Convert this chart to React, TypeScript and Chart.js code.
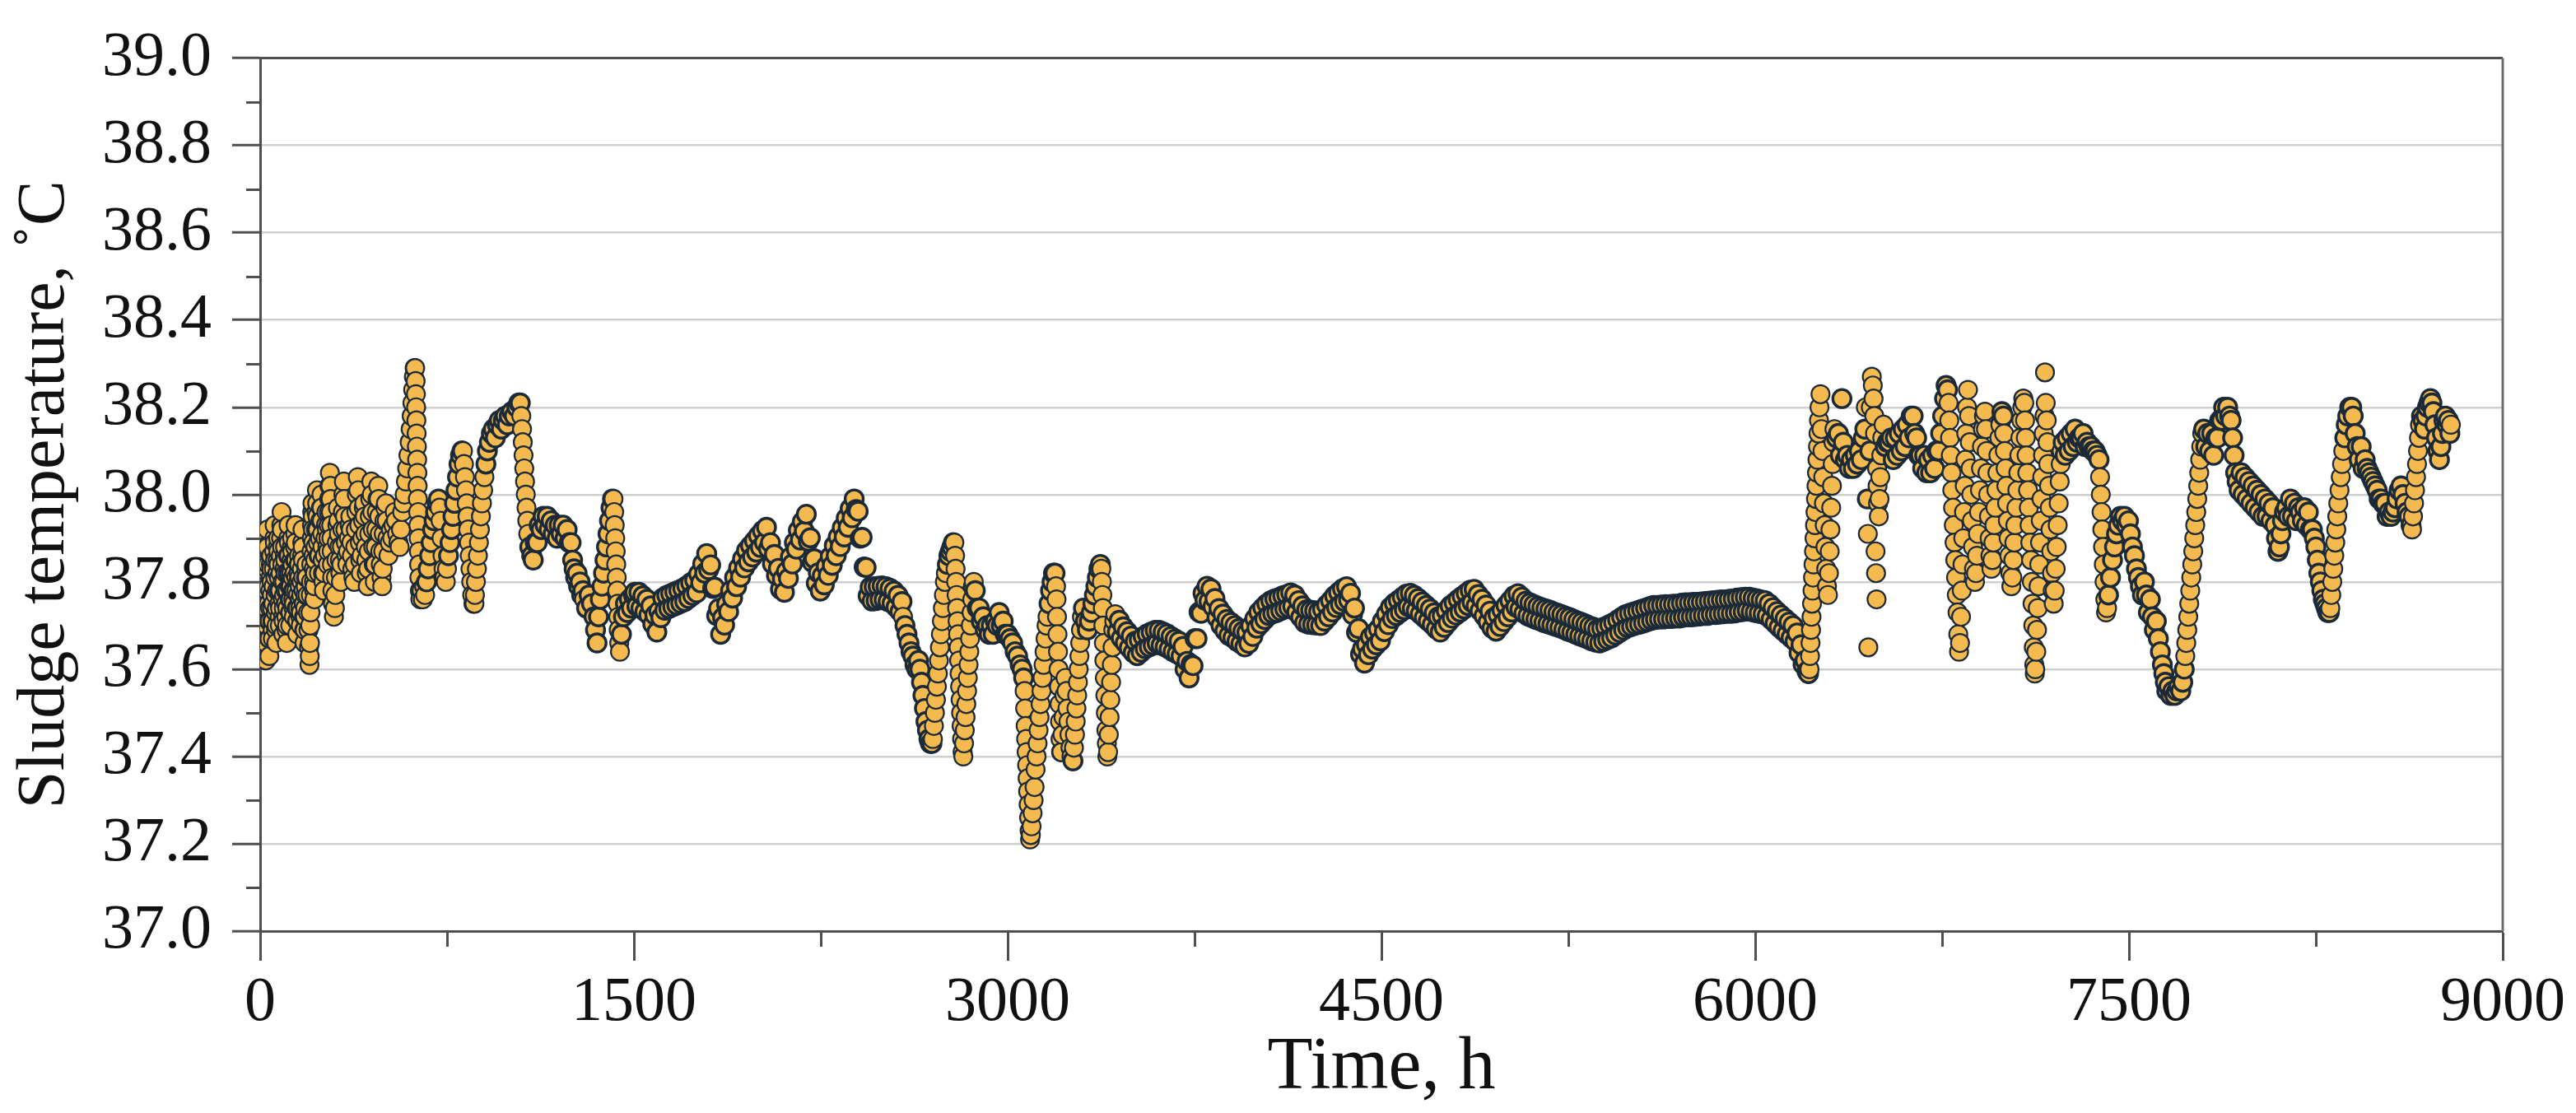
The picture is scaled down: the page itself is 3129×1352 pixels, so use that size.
import React, { useEffect, useRef } from "react";
import { Chart, registerables } from "chart.js";

Chart.register(...registerables);

type Pair = [number, number];

// Sludge temperature readings [hour, °C], split by period
const start0to300: Pair[] = [
[0,37.72],[1,37.76],[2,37.79],[3,37.83],[4,37.87],[5,37.90],
[6,37.86],[7,37.81],[8,37.77],[9,37.72],[10,37.68],[11,37.64],
[12,37.68],[13,37.72],[14,37.76],[15,37.80],[16,37.84],[17,37.88],
[18,37.84],[19,37.79],[20,37.75],[21,37.70],[22,37.66],[23,37.62],
[24,37.66],[25,37.70],[26,37.74],[27,37.78],[28,37.83],[29,37.88],[30,37.92],
[31,37.88],[32,37.84],[33,37.79],[34,37.75],[35,37.71],[36,37.67],[37,37.63],
[38,37.67],[39,37.71],[40,37.74],[41,37.78],[42,37.81],[43,37.84],[44,37.86],
[45,37.83],[46,37.80],[47,37.77],[48,37.74],[49,37.71],[50,37.69],[51,37.67],
[52,37.71],[53,37.75],[54,37.79],[55,37.83],[56,37.87],[57,37.90],[58,37.93],
[59,37.89],[60,37.85],[61,37.81],[62,37.77],[63,37.73],[64,37.69],[65,37.66],
[66,37.70],[67,37.74],[68,37.78],[69,37.82],[70,37.85],[71,37.88],[72,37.90],
[73,37.87],[74,37.84],[75,37.81],[76,37.78],[77,37.75],[78,37.72],[79,37.70],
[80,37.74],[81,37.78],[82,37.82],[83,37.86],[84,37.90],[85,37.93],[86,37.96],
[87,37.92],[88,37.88],[89,37.84],[90,37.80],[91,37.76],[92,37.72],[93,37.68],
[94,37.71],[95,37.74],[96,37.77],[97,37.80],[98,37.83],[99,37.86],[100,37.88],
[101,37.85],[102,37.82],[103,37.78],[104,37.75],[105,37.72],[106,37.69],[107,37.66],
[108,37.70],[109,37.74],[110,37.78],[111,37.82],[112,37.86],[113,37.90],[114,37.93],
[115,37.89],[116,37.86],[117,37.82],[118,37.79],[119,37.76],[120,37.73],[121,37.70],
[122,37.73],[123,37.76],[124,37.79],[125,37.82],[126,37.85],[127,37.88],[128,37.90],
[129,37.87],[130,37.84],[131,37.81],[132,37.78],[133,37.76],[134,37.74],[135,37.72],
[136,37.75],[137,37.78],[138,37.82],[139,37.85],[140,37.88],[141,37.91],[142,37.93],
[143,37.89],[144,37.85],[145,37.81],[146,37.78],[147,37.74],[148,37.71],[149,37.68],
[150,37.71],[151,37.74],[152,37.77],[153,37.80],[154,37.82],[155,37.84],[156,37.86],
[157,37.84],[158,37.81],[159,37.79],[160,37.76],[161,37.74],[162,37.72],[163,37.70],
[164,37.73],[165,37.77],[166,37.80],[167,37.83],[168,37.86],[169,37.89],[170,37.92],
[171,37.88],[172,37.85],[173,37.81],[174,37.78],[175,37.75],[176,37.72],[177,37.69],[178,37.66],
[179,37.69],[180,37.72],[181,37.74],[182,37.77],[183,37.79],[184,37.81],[185,37.83],[186,37.84],
[188,37.81],[190,37.77],[192,37.73],[194,37.69],[196,37.65],[198,37.61],
[199,37.63],[200,37.66],[201,37.70],[202,37.73],[203,37.77],[204,37.80],[205,37.84],[206,37.87],[207,37.90],[208,37.93],[209,37.96],[210,37.98],
[211,37.95],[212,37.92],[213,37.89],[214,37.86],[215,37.83],[216,37.80],[217,37.78],[218,37.76],
[219,37.79],[220,37.82],[221,37.85],[222,37.88],[224,37.92],[226,37.96],[228,38.01],
[229,37.98],[230,37.95],[231,37.92],[232,37.89],[234,37.86],[236,37.82],
[238,37.86],[240,37.90],[242,37.94],[244,37.97],[246,38.00],
[247,37.97],[248,37.94],[249,37.91],[250,37.88],[251,37.85],[252,37.82],[254,37.80],[256,37.78],
[258,37.82],[260,37.86],[262,37.90],[264,37.93],[266,37.96],
[268,37.92],[270,37.88],[272,37.84],
[273,37.87],[274,37.90],[275,37.93],[276,37.96],[277,37.99],[278,38.02],[280,38.05],
[282,38.02],[283,37.99],[284,37.96],[285,37.93],[286,37.90],[287,37.87],[288,37.84],[289,37.81],[290,37.78],[292,37.75],[296,37.72]
];

const early300to645: Pair[] = [
[300,37.74],[302,37.77],[304,37.81],[306,37.85],[308,37.89],[310,37.93],[312,37.97],
[314,37.94],[316,37.91],[318,37.88],[320,37.85],[322,37.82],[324,37.80],
[326,37.84],[328,37.88],[330,37.92],[332,37.96],[334,38.00],[336,38.03],
[338,37.99],[340,37.95],[342,37.92],[344,37.89],[347,37.86],[350,37.84],
[353,37.87],[356,37.90],[359,37.93],[362,37.95],
[364,37.92],[366,37.89],[368,37.86],[370,37.83],[374,37.81],[378,37.80],
[380,37.84],[382,37.88],[384,37.92],[386,37.96],[388,38.00],[392,38.04],
[394,38.01],[396,37.97],[398,37.93],[400,37.89],[402,37.85],[404,37.82],
[407,37.86],[410,37.90],[413,37.94],[416,37.97],[418,37.98],
[420,37.95],[422,37.91],[424,37.88],[426,37.85],[428,37.82],[432,37.79],
[434,37.83],[436,37.87],[438,37.91],[440,37.95],[442,37.99],[446,38.03],
[448,38.00],[450,37.96],[452,37.92],[454,37.88],[456,37.84],[460,37.80],
[462,37.84],[464,37.88],[466,37.92],[468,37.96],[471,37.99],[474,38.02],
[476,37.99],[478,37.95],[480,37.91],[482,37.87],[484,37.84],[487,37.81],[490,37.79],
[492,37.83],[494,37.87],[496,37.91],[499,37.94],[502,37.97],[505,37.98],
[508,37.94],[511,37.90],[515,37.86],
[520,37.89],[525,37.92],[530,37.90],[535,37.93],[540,37.96],[545,37.94],[550,37.91],[555,37.89],[560,37.88],[565,37.92],[570,37.96],[575,37.98],
[580,38.00],[585,38.03],[590,38.06],[595,38.09],[600,38.12],[604,38.15],[608,38.18],[611,38.21],[614,38.24],[617,38.27],[620,38.29],[622,38.29],
[624,38.26],[625,38.23],[626,38.20],[627,38.17],[628,38.14],[629,38.11],[630,38.08],[631,38.05],[632,38.02],[633,37.99],[634,37.96],[635,37.93],[636,37.90],[637,37.87],[638,37.84],[639,37.81],[641,37.78],[643,37.76]
];

const mid645to1500: Pair[] = [
[648,37.78],[653,37.76],[658,37.79],[662,37.77],
[668,37.80],[674,37.83],[680,37.86],[686,37.89],[692,37.92],[698,37.94],[704,37.96],[710,37.98],[716,37.99],[720,37.97],
[724,37.94],[728,37.90],[732,37.86],[736,37.83],[740,37.81],[745,37.80],
[750,37.83],[756,37.86],[762,37.89],[768,37.92],[774,37.95],[780,37.98],[786,38.01],[792,38.04],[798,38.07],[804,38.09],[810,38.10],[814,38.10],
[818,38.07],[822,38.04],[826,38.01],[829,37.98],[832,37.95],[835,37.92],[838,37.89],[841,37.86],[844,37.83],[847,37.80],[851,37.77],[856,37.75],[860,37.75],
[862,37.77],[866,37.80],[870,37.83],[874,37.86],[878,37.89],[882,37.92],[886,37.95],[890,37.98],[895,38.01],[900,38.04],[906,38.07],[912,38.10],[920,38.12],[928,38.14],[936,38.15],[944,38.13],[952,38.16],[960,38.17],[968,38.15],[976,38.17],[984,38.18],[992,38.16],[1000,38.18],[1010,38.19],[1020,38.18],[1030,38.20],[1038,38.21],[1044,38.21],
[1048,38.18],[1051,38.15],[1054,38.12],[1057,38.09],[1060,38.06],[1063,38.03],[1066,38.00],[1069,37.97],[1072,37.94],[1076,37.91],[1082,37.88],[1090,37.86],
[1096,37.85],[1104,37.89],[1112,37.89],[1120,37.93],[1128,37.92],[1136,37.95],[1144,37.93],[1152,37.95],[1160,37.92],[1168,37.94],[1176,37.91],[1184,37.93],[1192,37.90],[1200,37.93],[1208,37.91],[1216,37.93],[1224,37.90],[1232,37.92],[1240,37.89],[1248,37.89],
[1254,37.85],[1260,37.83],[1266,37.81],[1272,37.82],[1278,37.79],[1284,37.80],[1290,37.77],[1296,37.78],
[1300,37.76],[1310,37.74],[1320,37.77],[1330,37.75],[1340,37.72],[1346,37.69],[1352,37.66],[1358,37.72],[1365,37.76],[1372,37.79],
[1378,37.82],[1384,37.85],[1390,37.88],[1396,37.91],[1402,37.94],[1408,37.97],[1414,37.99],[1418,37.99],
[1421,37.96],[1423,37.93],[1425,37.90],[1427,37.87],[1429,37.84],[1431,37.81],[1433,37.78],[1435,37.75],[1437,37.72],[1439,37.69],[1441,37.66],[1444,37.64],
[1450,37.68],[1458,37.72],[1466,37.75],[1474,37.73],[1482,37.76],[1490,37.74],[1498,37.77]
];

const period1500to2580: Pair[] = [
[1504,37.776],[1512,37.744],[1520,37.776],[1528,37.740],[1536,37.768],[1544,37.732],[1552,37.760],[1560,37.724],[1568,37.745],[1576,37.703],[1584,37.724],[1592,37.685],
[1600,37.733],[1608,37.718],[1616,37.763],[1624,37.735],[1632,37.769],[1640,37.739],[1648,37.773],[1656,37.743],[1664,37.777],[1672,37.747],[1680,37.781],[1688,37.751],[1696,37.785],
[1704,37.755],[1712,37.791],[1720,37.762],[1728,37.798],[1736,37.769],[1744,37.804],[1752,37.775],[1760,37.818],[1768,37.798],[1776,37.841],[1784,37.820],[1792,37.865],[1800,37.828],
[1808,37.839],[1816,37.785],[1824,37.788],[1832,37.723],[1840,37.739],[1848,37.680],[1856,37.718],[1864,37.701],[1872,37.749],[1880,37.732],[1888,37.780],[1896,37.763],
[1904,37.810],[1912,37.789],[1920,37.832],[1928,37.811],[1936,37.853],[1944,37.832],[1952,37.872],[1960,37.846],[1968,37.883],[1976,37.857],[1984,37.894],[1992,37.868],
[2000,37.906],[2008,37.879],[2016,37.917],[2024,37.890],[2032,37.925],[2040,37.876],[2048,37.890],[2056,37.841],[2064,37.863],[2072,37.815],[2080,37.831],[2088,37.783],[2096,37.807],
[2104,37.776],[2112,37.824],[2120,37.808],[2128,37.857],[2136,37.841],[2144,37.890],[2152,37.875],[2160,37.918],[2168,37.896],[2176,37.938],[2184,37.916],[2192,37.955],
[2200,37.893],[2208,37.901],[2216,37.845],[2224,37.853],[2232,37.797],[2240,37.821],[2248,37.779],[2256,37.814],[2264,37.793],[2272,37.836],[2280,37.815],[2288,37.858],[2296,37.838],
[2304,37.883],[2312,37.860],[2320,37.903],[2328,37.881],[2336,37.924],[2344,37.903],[2352,37.946],[2360,37.925],[2368,37.968],[2376,37.947],[2384,37.990],[2392,37.966],
[2400,37.962],[2408,37.900],[2416,37.902],[2424,37.834],[2432,37.833],[2440,37.768],[2448,37.788],[2456,37.756],[2464,37.789],[2472,37.757],[2480,37.790],[2488,37.759],[2496,37.791],
[2504,37.759],[2512,37.789],[2520,37.755],[2528,37.785],[2536,37.751],[2544,37.779],[2552,37.742],[2560,37.769],[2568,37.732],[2576,37.755]
];

const period2580to3000: Pair[] = [
[2580,37.72],[2588,37.70],[2596,37.68],[2604,37.66],[2612,37.64],[2620,37.63],[2628,37.61],[2636,37.60],[2642,37.62],[2648,37.60],[2654,37.57],[2660,37.54],[2666,37.51],[2672,37.48],[2678,37.46],[2684,37.44],[2690,37.43],[2696,37.43],[2700,37.44],
[2704,37.47],[2708,37.50],[2712,37.53],[2716,37.56],[2720,37.59],[2724,37.62],[2728,37.65],[2732,37.68],[2736,37.71],[2740,37.74],[2744,37.77],[2748,37.80],[2752,37.82],
[2758,37.84],[2764,37.86],[2770,37.87],[2776,37.88],[2782,37.89],[2786,37.89],
[2789,37.86],[2791,37.83],[2793,37.80],[2795,37.77],[2797,37.74],[2799,37.71],[2801,37.68],[2803,37.65],[2805,37.62],[2807,37.59],[2809,37.56],[2811,37.53],[2813,37.50],[2815,37.47],[2817,37.44],[2819,37.41],[2822,37.40],
[2825,37.43],[2828,37.46],[2831,37.49],[2834,37.52],[2837,37.55],[2840,37.58],[2843,37.61],[2846,37.64],[2849,37.67],[2852,37.70],[2855,37.73],[2858,37.76],[2861,37.79],[2864,37.80],
[2870,37.78],[2878,37.74],[2886,37.74],[2894,37.71],[2902,37.72],[2910,37.69],[2918,37.70],[2926,37.68],[2934,37.70],[2942,37.68],[2950,37.71],[2958,37.70],[2966,37.73],[2974,37.70],[2982,37.71],[2990,37.68]
];

const period3000to3430: Pair[] = [
[3000,37.68],[3010,37.67],[3020,37.66],[3030,37.64],[3040,37.63],[3050,37.61],[3058,37.60],[3064,37.58],[3068,37.55],[3070,37.51],[3072,37.47],[3074,37.44],[3076,37.41],[3078,37.38],[3080,37.35],[3082,37.32],[3084,37.29],[3086,37.26],[3088,37.23],[3090,37.21],[3093,37.22],[3096,37.24],
[3100,37.27],[3104,37.30],[3108,37.33],[3112,37.37],[3116,37.40],[3120,37.43],[3124,37.46],[3128,37.49],[3132,37.52],[3136,37.55],[3140,37.58],[3144,37.61],[3148,37.64],[3152,37.67],[3156,37.70],[3160,37.72],[3166,37.75],[3172,37.78],[3178,37.80],[3184,37.82],[3190,37.82],
[3194,37.79],[3196,37.76],[3198,37.72],[3200,37.68],[3202,37.64],[3204,37.60],[3206,37.56],[3208,37.52],[3210,37.48],[3212,37.44],[3214,37.41],[3216,37.41],
[3220,37.45],[3224,37.49],[3228,37.54],[3232,37.58],[3236,37.55],[3240,37.51],[3244,37.48],[3248,37.45],[3252,37.42],[3256,37.40],[3262,37.39],
[3266,37.42],[3270,37.45],[3273,37.48],[3276,37.51],[3279,37.54],[3282,37.57],[3285,37.60],[3288,37.63],[3291,37.66],[3294,37.69],[3298,37.72],[3304,37.74],
[3312,37.71],[3320,37.69],[3328,37.71],[3336,37.73],
[3342,37.75],[3348,37.77],[3354,37.79],[3360,37.81],[3366,37.83],[3372,37.84],[3376,37.83],
[3378,37.80],[3380,37.77],[3382,37.74],[3384,37.70],[3386,37.66],[3388,37.62],[3390,37.58],[3392,37.54],[3394,37.50],[3396,37.46],[3398,37.43],[3400,37.40],[3403,37.41],
[3406,37.45],[3409,37.49],[3412,37.53],[3415,37.57],[3418,37.61],[3421,37.65],[3424,37.69],[3428,37.71]
];

const period3430to4500: Pair[] = [
[3432,37.726],[3440,37.685],[3448,37.712],[3456,37.671],[3464,37.697],[3472,37.660],[3480,37.686],[3488,37.649],[3496,37.676],
[3504,37.638],[3512,37.664],[3520,37.631],[3528,37.667],[3536,37.639],[3544,37.675],[3552,37.647],[3560,37.681],[3568,37.651],[3576,37.685],[3584,37.655],[3592,37.689],
[3600,37.659],[3608,37.689],[3616,37.655],[3624,37.685],[3632,37.651],[3640,37.681],[3648,37.646],[3656,37.675],[3664,37.640],[3672,37.669],[3680,37.635],[3688,37.664],[3696,37.630],
[3704,37.652],[3712,37.600],[3720,37.618],[3728,37.580],[3736,37.611],[3744,37.608],[3752,37.670],[3760,37.670],[3768,37.731],[3776,37.728],[3784,37.774],[3792,37.758],
[3800,37.790],[3808,37.755],[3816,37.784],[3824,37.743],[3832,37.762],[3840,37.718],[3848,37.739],[3856,37.700],[3864,37.726],[3872,37.688],[3880,37.714],[3888,37.677],[3896,37.707],
[3904,37.672],[3912,37.700],[3920,37.664],[3928,37.693],[3936,37.658],[3944,37.687],[3952,37.651],[3960,37.684],[3968,37.659],[3976,37.699],[3984,37.675],[3992,37.716],
[4000,37.694],[4008,37.731],[4016,37.704],[4024,37.741],[4032,37.714],[4040,37.750],[4048,37.723],[4056,37.757],[4064,37.727],[4072,37.761],[4080,37.730],[4088,37.764],[4096,37.734],
[4104,37.768],[4112,37.738],[4120,37.771],[4128,37.741],[4136,37.775],[4144,37.744],[4152,37.770],[4160,37.731],[4168,37.757],[4176,37.719],[4184,37.745],[4192,37.707],
[4200,37.736],[4208,37.703],[4216,37.735],[4224,37.702],[4232,37.734],[4240,37.701],[4248,37.732],[4256,37.700],[4264,37.737],[4272,37.710],[4280,37.747],[4288,37.720],[4296,37.757],
[4304,37.731],[4312,37.768],[4320,37.741],[4328,37.776],[4336,37.748],[4344,37.784],[4352,37.755],[4360,37.789],[4368,37.759],[4376,37.774],[4384,37.725],[4392,37.740],
[4400,37.684],[4408,37.693],[4416,37.634],[4424,37.647],[4432,37.614],[4440,37.656],[4448,37.633],[4456,37.674],[4464,37.646],[4472,37.683],[4480,37.656],[4488,37.692],[4496,37.665]
];

const period4500to6220: Pair[] = [
[4504,37.710],[4512,37.686],[4520,37.726],[4528,37.702],[4536,37.742],[4544,37.716],[4552,37.751],[4560,37.723],[4568,37.758],[4576,37.730],[4584,37.765],[4592,37.736],
[4600,37.772],[4608,37.743],[4616,37.774],[4624,37.739],[4632,37.769],[4640,37.734],[4648,37.762],[4656,37.726],[4664,37.754],[4672,37.718],[4680,37.746],[4688,37.710],[4696,37.738],
[4704,37.702],[4712,37.729],[4720,37.692],[4728,37.720],[4736,37.685],[4744,37.723],[4752,37.696],[4760,37.734],[4768,37.707],[4776,37.745],[4784,37.717],[4792,37.752],
[4800,37.724],[4808,37.760],[4816,37.731],[4824,37.767],[4832,37.738],[4840,37.774],[4848,37.746],[4856,37.781],[4864,37.753],[4872,37.783],[4880,37.745],[4888,37.771],[4896,37.734],
[4904,37.760],[4912,37.722],[4920,37.747],[4928,37.708],[4936,37.733],[4944,37.694],[4952,37.718],[4960,37.687],[4968,37.725],[4976,37.698],[4984,37.735],[4992,37.709],
[5000,37.746],[5008,37.720],[5016,37.757],[5024,37.731],[5032,37.768],[5040,37.742],[5048,37.773],[5056,37.737],[5064,37.765],[5072,37.728],[5080,37.756],[5088,37.722],[5096,37.752],
[5104,37.718],[5112,37.748],[5120,37.714],[5128,37.744],[5136,37.711],[5144,37.741],[5152,37.707],[5160,37.738],[5168,37.704],[5176,37.735],[5184,37.701],[5192,37.731],
[5200,37.698],[5208,37.728],[5216,37.695],[5224,37.725],[5232,37.691],[5240,37.721],[5248,37.687],[5256,37.718],[5264,37.684],[5272,37.714],[5280,37.680],[5288,37.710],[5296,37.676],
[5304,37.707],[5312,37.673],[5320,37.703],[5328,37.669],[5336,37.699],[5344,37.665],[5352,37.696],[5360,37.662],[5368,37.692],[5376,37.660],[5384,37.694],[5392,37.664],
[5400,37.698],[5408,37.668],[5416,37.702],[5424,37.672],[5432,37.707],[5440,37.678],[5448,37.713],[5456,37.684],[5464,37.719],[5472,37.690],[5480,37.725],[5488,37.695],[5496,37.728],
[5504,37.698],[5512,37.731],[5520,37.701],[5528,37.734],[5536,37.703],[5544,37.737],[5552,37.706],[5560,37.740],[5568,37.709],[5576,37.743],[5584,37.712],[5592,37.746],
[5600,37.714],[5608,37.746],[5616,37.715],[5624,37.747],[5632,37.715],[5640,37.748],[5648,37.716],[5656,37.748],[5664,37.716],[5672,37.749],[5680,37.717],[5688,37.749],[5696,37.717],
[5704,37.751],[5712,37.719],[5720,37.752],[5728,37.720],[5736,37.752],[5744,37.720],[5752,37.753],[5760,37.721],[5768,37.753],[5776,37.722],[5784,37.754],[5792,37.723],
[5800,37.755],[5808,37.723],[5816,37.756],[5824,37.725],[5832,37.757],[5840,37.725],[5848,37.758],[5856,37.726],[5864,37.759],[5872,37.727],[5880,37.759],[5888,37.728],[5896,37.760],
[5904,37.728],[5912,37.761],[5920,37.729],[5928,37.763],[5936,37.731],[5944,37.764],[5952,37.732],[5960,37.765],[5968,37.734],[5976,37.765],[5984,37.732],[5992,37.763],
[6000,37.730],[6008,37.761],[6016,37.728],[6024,37.759],[6032,37.726],[6040,37.757],[6048,37.722],[6056,37.750],[6064,37.714],[6072,37.741],[6080,37.705],[6088,37.732],[6096,37.696],
[6104,37.724],[6112,37.688],[6120,37.716],[6128,37.680],[6136,37.708],[6144,37.672],[6152,37.700],[6160,37.664],[6168,37.683],[6176,37.637],[6184,37.656],[6192,37.611],
[6200,37.620],[6208,37.595],[6214,37.590],[6218,37.600]
];

const period6220to7550: Pair[] = [
[6220,37.63],[6222,37.66],[6224,37.69],[6226,37.72],[6228,37.75],[6230,37.78],[6232,37.81],[6234,37.84],[6236,37.87],[6238,37.90],[6240,37.93],[6242,37.96],[6244,37.99],[6246,38.02],[6248,38.05],[6250,38.08],[6252,38.11],[6254,38.14],[6256,38.17],[6258,38.20],[6262,38.23],
[6266,38.15],[6270,38.10],[6273,38.04],[6276,37.98],[6279,37.93],[6282,37.88],[6285,37.83],[6288,37.79],[6292,37.77],[6296,37.82],[6299,37.87],[6302,37.92],[6305,37.97],[6308,38.02],[6311,38.07],[6314,38.12],[6318,38.15],
[6326,38.13],[6334,38.14],[6342,38.09],[6348,38.22],[6354,38.12],[6362,38.08],[6370,38.09],[6378,38.06],[6386,38.08],[6394,38.06],[6402,38.09],[6410,38.07],[6418,38.10],[6426,38.08],[6434,38.13],[6440,38.15],
[6444,38.20],[6450,37.99],[6452,37.91],[6454,37.65],[6460,38.10],[6464,38.20],[6468,38.27],[6472,38.25],[6475,38.22],[6478,38.18],[6481,38.14],[6483,37.87],[6485,37.82],[6487,37.76],[6489,38.06],[6491,38.02],[6493,37.98],[6496,37.95],[6499,37.99],[6502,38.04],[6506,38.09],[6510,38.13],[6515,38.16],
[6522,38.11],[6530,38.12],[6538,38.12],[6546,38.13],[6554,38.08],[6562,38.13],[6570,38.09],[6578,38.14],[6586,38.10],[6594,38.15],[6602,38.11],[6610,38.16],[6618,38.13],[6626,38.18],[6634,38.18],[6640,38.14],[6648,38.13],[6656,38.09],[6664,38.09],[6672,38.06],[6680,38.09],[6688,38.05],[6696,38.08],[6704,38.05],[6712,38.09],[6720,38.06],[6728,38.10],[6736,38.10],[6744,38.14],
[6752,38.18],[6760,38.22],[6766,38.25],[6772,38.24],[6776,38.21],[6779,38.17],[6782,38.13],[6785,38.09],[6788,38.05],[6791,38.01],[6794,37.97],[6797,37.93],[6800,37.89],[6803,37.85],[6806,37.81],[6809,37.77],[6812,37.73],[6815,37.68],[6818,37.64],[6822,37.66],
[6826,37.72],[6829,37.78],[6832,37.84],[6835,37.90],[6838,37.96],[6841,38.02],[6844,38.08],[6847,38.14],[6850,38.20],[6854,38.24],
[6858,38.18],[6861,38.12],[6864,38.06],[6867,38.00],[6870,37.94],[6874,37.88],[6878,37.83],[6882,37.80],[6886,37.82],[6890,37.86],[6894,37.91],[6898,37.96],[6902,38.01],[6906,38.06],[6910,38.11],[6914,38.15],[6918,38.18],[6922,38.19],
[6926,38.15],[6929,38.10],[6932,38.05],[6935,38.00],[6938,37.95],[6941,37.90],[6944,37.86],[6948,37.83],[6952,37.85],[6956,37.89],[6960,37.93],[6964,37.97],[6968,38.01],[6972,38.05],[6976,38.09],[6980,38.13],[6984,38.16],[6990,38.19],
[6996,38.18],[6999,38.14],[7002,38.10],[7005,38.06],[7008,38.02],[7011,37.98],[7014,37.94],[7017,37.90],[7020,37.86],[7024,37.82],[7028,37.79],[7032,37.81],[7036,37.85],[7040,37.89],[7044,37.93],[7048,37.97],[7052,38.01],[7056,38.05],[7060,38.09],[7064,38.13],[7068,38.17],[7072,38.20],[7076,38.22],
[7080,38.21],[7083,38.17],[7086,38.13],[7089,38.09],[7092,38.05],[7095,38.01],[7098,37.97],[7101,37.93],[7104,37.89],[7107,37.85],[7110,37.80],[7113,37.75],[7116,37.70],[7118,37.65],[7120,37.61],[7122,37.59],[7124,37.60],
[7128,37.64],[7131,37.69],[7134,37.74],[7137,37.79],[7140,37.84],[7143,37.89],[7146,37.94],[7149,37.99],[7152,38.04],[7155,38.09],[7158,38.14],[7161,38.18],[7163,38.28],[7166,38.21],[7170,38.17],[7173,38.12],[7176,38.07],[7179,38.02],[7182,37.97],[7185,37.92],[7188,37.87],[7191,37.82],[7194,37.78],[7198,37.75],
[7202,37.78],[7206,37.83],[7210,37.88],[7214,37.93],[7218,37.98],[7222,38.03],[7226,38.07],[7230,38.10],[7236,38.12],
[7244,38.09],[7252,38.13],[7260,38.10],[7268,38.14],[7276,38.11],[7284,38.15],[7292,38.12],[7300,38.13],[7308,38.13],[7316,38.14],[7324,38.11],[7332,38.12],[7340,38.11],[7348,38.11],[7356,38.10],[7364,38.10],[7372,38.09],[7380,38.08],
[7384,38.04],[7387,38.00],[7390,37.96],[7393,37.92],[7396,37.88],[7399,37.84],[7402,37.80],[7405,37.76],[7408,37.73],[7412,37.74],
[7418,37.77],[7426,37.81],[7434,37.85],[7442,37.88],[7450,37.91],[7458,37.93],[7466,37.95],[7474,37.94],[7482,37.95],[7490,37.93],[7498,37.94],
[7506,37.91],[7514,37.88],[7522,37.86],[7530,37.83],[7538,37.81],[7546,37.79]
];

const period7550to8800: Pair[] = [
[7554,37.77],[7562,37.80],[7570,37.77],[7578,37.73],[7586,37.76],[7594,37.72],[7602,37.69],[7610,37.71],[7618,37.67],[7626,37.64],[7634,37.61],[7640,37.59],[7646,37.57],[7652,37.55],[7660,37.56],[7668,37.54],[7676,37.55],[7684,37.54],[7692,37.55],[7700,37.56],[7708,37.55],[7716,37.57],
[7722,37.60],[7726,37.63],[7730,37.66],[7734,37.69],[7738,37.72],[7742,37.75],[7746,37.78],[7750,37.81],[7754,37.84],[7758,37.87],[7762,37.90],[7766,37.93],[7770,37.96],[7774,37.99],[7778,38.02],[7782,38.05],[7786,38.08],[7790,38.11],[7794,38.14],[7800,38.15],
[7808,38.11],[7816,38.14],[7824,38.10],[7832,38.14],[7840,38.09],[7848,38.13],[7856,38.13],[7864,38.17],[7872,38.17],[7880,38.20],[7888,38.18],[7896,38.20],[7904,38.18],[7910,38.17],
[7916,38.13],[7922,38.09],[7928,38.05],[7934,38.03],[7942,38.01],[7950,38.05],[7958,38.00],[7966,38.04],[7974,37.99],[7982,38.03],[7990,37.98],[7998,38.02],[8006,37.97],[8014,38.01],[8022,37.96],[8030,38.00],[8038,37.95],[8046,37.99],[8054,37.95],[8062,37.98],[8070,37.94],
[8078,37.97],[8086,37.93],[8092,37.90],[8098,37.87],[8104,37.88],[8110,37.91],[8116,37.94],[8124,37.96],[8132,37.97],[8140,37.95],
[8148,37.99],[8156,37.95],[8164,37.98],[8172,37.94],[8180,37.97],[8188,37.96],[8196,37.94],[8204,37.97],[8212,37.93],[8220,37.96],[8228,37.92],
[8236,37.92],[8244,37.90],[8250,37.88],[8256,37.85],[8262,37.82],[8268,37.80],[8274,37.78],[8280,37.76],[8286,37.75],[8292,37.74],[8298,37.73],[8304,37.73],[8308,37.74],
[8312,37.77],[8316,37.80],[8320,37.83],[8324,37.86],[8328,37.89],[8332,37.92],[8336,37.95],[8340,37.98],[8345,38.01],[8350,38.04],[8355,38.07],[8360,38.10],[8366,38.13],[8372,38.16],[8378,38.18],[8386,38.20],[8394,38.20],[8400,38.18],
[8408,38.14],[8416,38.11],[8424,38.08],[8432,38.11],[8440,38.06],[8448,38.08],[8456,38.06],[8464,38.05],[8472,38.04],[8480,38.03],[8488,38.02],[8496,38.01],[8504,37.99],[8512,37.99],[8520,37.98],[8528,37.98],[8536,37.95],[8544,37.96],[8552,37.95],[8560,37.96],
[8568,37.97],[8576,37.99],[8584,38.01],[8592,38.02],[8600,38.00],[8608,37.98],[8616,37.96],[8624,37.95],[8632,37.93],
[8636,37.92],[8640,37.95],[8644,37.98],[8648,38.01],[8652,38.04],[8656,38.07],[8660,38.10],[8664,38.13],[8668,38.16],[8674,38.18],[8680,38.17],[8686,38.15],[8692,38.18],[8698,38.20],[8704,38.21],[8710,38.22],[8716,38.21],[8722,38.19],[8728,38.16],[8734,38.13],[8740,38.10],[8746,38.08],[8752,38.11],[8758,38.14],[8764,38.17],[8770,38.18],[8776,38.16],[8782,38.17],[8788,38.14],[8792,38.16]
];

const xMajorTicks = [0, 1500, 3000, 4500, 6000, 7500, 9000];
const xMinorTicks = [750, 2250, 3750, 5250, 6750, 8250];
const yMajorTicks = [37.0, 37.2, 37.4, 37.6, 37.8, 38.0, 38.2, 38.4, 38.6, 38.8, 39.0];
const yMinorTicks = [37.1, 37.3, 37.5, 37.7, 37.9, 38.1, 38.3, 38.5, 38.7, 38.9];

const xTitle = "Time, h";
const yTitle = "Sludge temperature, \u02DAC";

const FONT = "'Liberation Serif', 'Times New Roman', serif";
const AXIS_COLOR = "#4f4f4f";

const frameAndMinorTicks = {
  id: "frameAndMinorTicks",
  afterDraw(chart: any) {
    const { ctx, scales } = chart;
    const x = scales.x;
    const y = scales.y;
    const left = x.getPixelForValue(x.min);
    const right = x.getPixelForValue(x.max);
    const top = y.getPixelForValue(y.max);
    const bottom = y.getPixelForValue(y.min);
    ctx.save();
    ctx.lineWidth = 3;
    ctx.strokeStyle = AXIS_COLOR;
    yMinorTicks.forEach((v) => {
      const py = Math.round(y.getPixelForValue(v)) + 0.5;
      ctx.beginPath();
      ctx.moveTo(left - 17, py);
      ctx.lineTo(left, py);
      ctx.stroke();
    });
    xMinorTicks.forEach((v) => {
      const px = Math.round(x.getPixelForValue(v)) + 0.5;
      ctx.beginPath();
      ctx.moveTo(px, bottom);
      ctx.lineTo(px, bottom + 19);
      ctx.stroke();
    });
    ctx.beginPath();
    ctx.moveTo(left, top);
    ctx.lineTo(right, top);
    ctx.stroke();
    ctx.strokeStyle = "#6e6e6e";
    ctx.beginPath();
    ctx.moveTo(right, top);
    ctx.lineTo(right, bottom);
    ctx.stroke();
    ctx.restore();
  },
};

export default function App() {
  const canvasRef = useRef<HTMLCanvasElement | null>(null);

  useEffect(() => {
    const canvas = canvasRef.current;
    if (!canvas) return;
    const series = [
      start0to300,
      early300to645,
      mid645to1500,
      period1500to2580,
      period2580to3000,
      period3000to3430,
      period3430to4500,
      period4500to6220,
      period6220to7550,
      period7550to8800,
    ]
      .flat()
      .map(([t, v]) => ({ x: t, y: v }));

    // slow, steady stretches are drawn with a heavier outline so the overlapping
    // circles build up the dark band seen in the original
    const outlineWidth = (ctx: any) => {
      const i = ctx.dataIndex;
      const d = ctx.dataset.data;
      if (!d || i <= 0 || !d[i]) return 2.2;
      const dt = d[i].x - d[i - 1].x;
      return dt >= 6 ? 3.4 : 2.2;
    };

    const chart = new Chart(canvas, {
      type: "scatter",
      data: {
        datasets: [
          {
            label: "Sludge temperature",
            data: series,
            pointRadius: 11,
            pointHoverRadius: 11,
            pointBorderWidth: outlineWidth,
            backgroundColor: "#F4B94F",
            borderColor: "#1b2a39",
            showLine: false,
          },
        ],
      },
      options: {
        responsive: false,
        maintainAspectRatio: false,
        devicePixelRatio: 1,
        animation: false,
        events: [],
        layout: { padding: { top: 67, right: 89, left: 0, bottom: 0 } },
        plugins: {
          legend: { display: false },
          tooltip: { enabled: false },
          title: { display: false },
        },
        scales: {
          x: {
            type: "linear",
            position: "bottom",
            min: 0,
            max: 9000,
            afterBuildTicks: (s: any) => {
              s.ticks = xMajorTicks.map((v) => ({ value: v }));
            },
            afterFit: (s: any) => {
              s.height = 221;
            },
            ticks: {
              autoSkip: false,
              maxRotation: 0,
              minRotation: 0,
              padding: 6,
              color: "#111",
              font: { family: FONT, size: 76 },
              callback: (v: any) => String(v),
            },
            grid: {
              drawOnChartArea: false,
              drawTicks: true,
              tickLength: 36,
              tickColor: AXIS_COLOR,
              tickWidth: 3,
            },
            border: { display: true, color: AXIS_COLOR, width: 3 },
            title: {
              display: true,
              text: xTitle,
              color: "#111",
              font: { family: FONT, size: 90 },
              padding: { top: 0, bottom: 0 },
            },
          },
          y: {
            type: "linear",
            position: "left",
            min: 37,
            max: 39,
            afterBuildTicks: (s: any) => {
              s.ticks = yMajorTicks.map((v) => ({ value: v }));
            },
            afterFit: (s: any) => {
              s.width = 316;
            },
            ticks: {
              autoSkip: false,
              padding: 25,
              color: "#111",
              font: { family: FONT, size: 76 },
              callback: (v: any) => Number(v).toFixed(1),
            },
            grid: {
              drawOnChartArea: true,
              color: "#cfcfcf",
              lineWidth: 2.5,
              drawTicks: true,
              tickLength: 34,
              tickColor: AXIS_COLOR,
              tickWidth: 3,
            },
            border: { display: true, color: AXIS_COLOR, width: 3 },
            title: {
              display: true,
              text: yTitle,
              color: "#111",
              font: { family: FONT, size: 82 },
              padding: { top: 6, bottom: 0 },
            },
          },
        },
      },
      plugins: [frameAndMinorTicks],
    } as any);

    return () => {
      chart.destroy();
    };
  }, []);

  return (
    <div
      style={{
        position: "absolute",
        left: 0,
        top: 0,
        width: 3129,
        height: 1352,
        background: "#ffffff",
      }}
    >
      <canvas
        ref={canvasRef}
        width={3129}
        height={1352}
        style={{ display: "block", width: 3129, height: 1352 }}
      />
    </div>
  );
}
